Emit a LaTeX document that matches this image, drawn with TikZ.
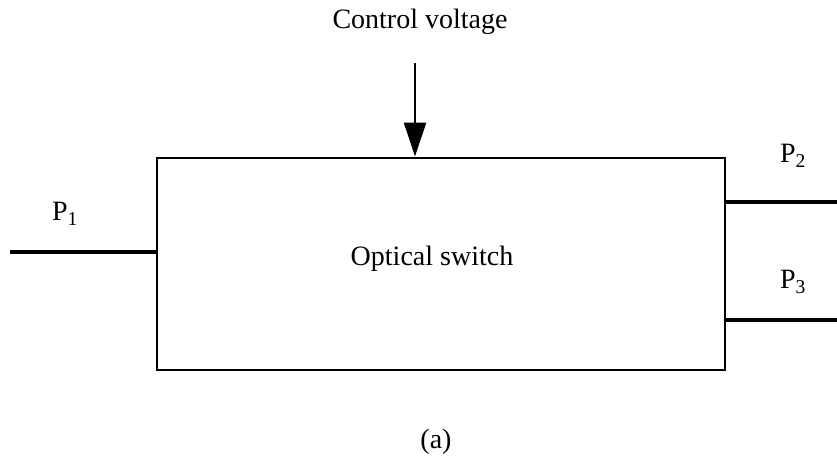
\documentclass[tikz,border=0pt]{standalone}
\usepackage{fontspec}
\setmainfont{Liberation Serif}
\usetikzlibrary{arrows.meta}
\begin{document}
\begin{tikzpicture}[x = 1pt, y = -1pt, font = \fontsize{28}{32}\selectfont,
        port/.style = {line width = 3.5pt},
        lbl/.style = {inner sep = 0pt}]
    \useasboundingbox (0, 0) rectangle (837, 464);
    \node[draw, line width = 2pt, minimum width = 568pt, minimum height = 212pt, inner sep = 0pt] (switch) at (441, 263.5) {};
    \node[lbl] (name) at (432, 259) {Optical switch};
    \node[lbl] (ctrl) at (420, 22) {Control voltage};
    \coordinate (ctrltop) at (415, 63);
    \draw[line width = 2.5pt, -{Triangle[length = 34pt, width = 22pt]}] (ctrltop) -- (ctrltop |- switch.north);
    % ports
    \coordinate (in1) at (10, 252);
    \coordinate (out2) at (837, 202);
    \coordinate (out3) at (837, 320);
    \draw[port] (in1) -- (in1 -| switch.west);
    \draw[port] (out2 -| switch.east) -- (out2);
    \draw[port] (out3 -| switch.east) -- (out3);
    \node[lbl] (p1) at (65, 214) {P\textsubscript{1}};
    \node[lbl] (p2) at (793, 156) {P\textsubscript{2}};
    \node[lbl] (p3) at (793, 282) {P\textsubscript{3}};
    \node[lbl] (cap) at (436, 442) {(a)};
\end{tikzpicture}
\end{document}
